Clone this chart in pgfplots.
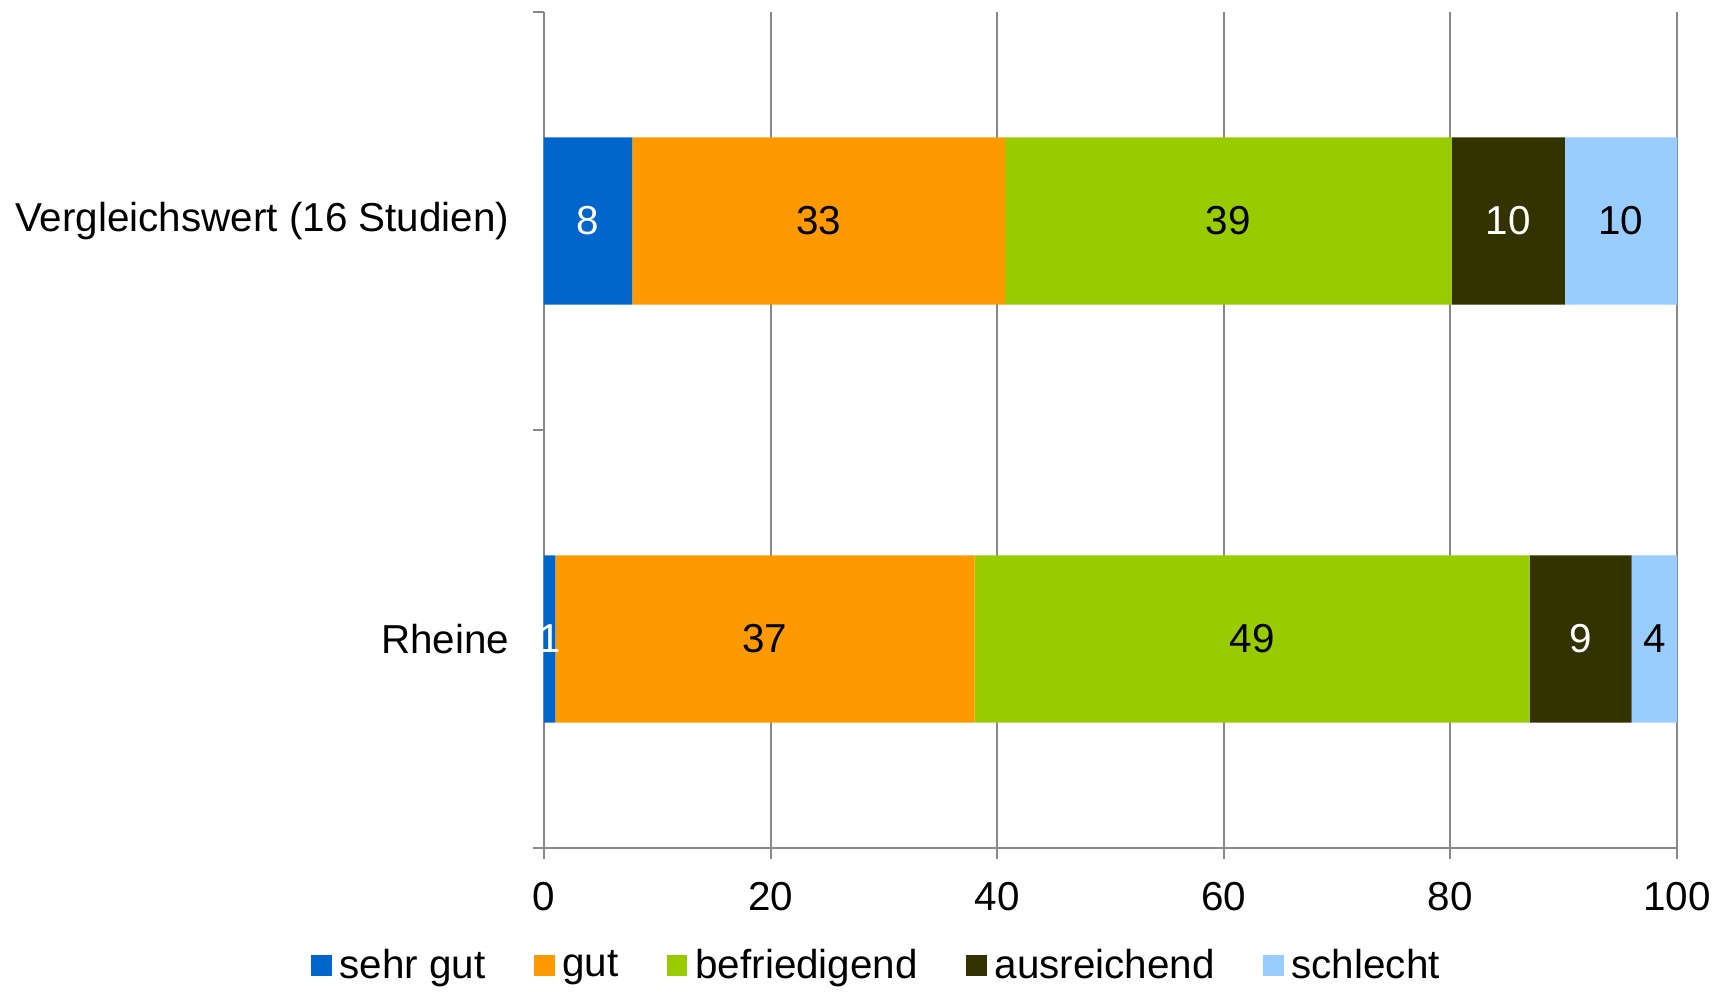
\documentclass[border=0pt]{standalone}
\usepackage{pgfplots}
\pgfplotsset{compat=1.18}
\usepackage{pgfplotstable}
\usepackage{fontspec}
\setmainfont{Liberation Sans}

\definecolor{sehrgut}{HTML}{0066CC}
\definecolor{gut}{HTML}{FF9900}
\definecolor{befr}{HTML}{99CC00}
\definecolor{ausr}{HTML}{333300}
\definecolor{schl}{HTML}{99CCFF}
\definecolor{axgray}{HTML}{888888}

% pos 0 = Rheine, pos 1 = Vergleichswert
\pgfplotstableread{
pos sg gut bef aus sch
0   1.0  37.0 49.0 9.0  4.0
1   7.8  32.9 39.4 10.0 9.9
}\noten

\begin{document}
\begin{tikzpicture}[font=\fontsize{10.1}{12}\selectfont]
\useasboundingbox (-136pt,-36pt) rectangle (294pt,212pt);
\begin{axis}[
  xbar stacked, bar width=0.4,
  scale only axis, width=283.25pt, height=209pt,
  xmin=0, xmax=100, ymin=-0.5, ymax=1.5,
  /pgf/number format/assume math mode=true,
  xtick={0,20,...,100},
  ytick={0,1}, yticklabels={Rheine, Vergleichswert (16 Studien)},
  y tick style={draw=none},
  extra y ticks={-0.5,0.5,1.5}, extra y tick labels={},
  extra y tick style={y tick style={draw=axgray, line width=0.7pt}},
  axis x line*=bottom, axis y line*=left,
  axis line style={draw=axgray, line width=0.7pt},
  x tick style={draw=axgray, line width=0.5pt},
  tick align=outside, major tick length=2.75pt,
  xmajorgrids, grid style={draw=axgray, line width=0.5pt},
  xticklabel style={yshift=-2.4pt},
  yticklabel style={xshift=-2.4pt},
  point meta=explicit,
  nodes near coords={\pgfmathprintnumber[fixed,precision=0]{\pgfplotspointmeta}},
  nodes near coords style={anchor=center},
  legend columns=5,
  legend style={draw=none, fill=none, at={(0.296,-0.142)}, anchor=center,
    /tikz/every even column/.append style={column sep=10pt},
    font=\fontsize{10.1}{12}\selectfont},
  legend image code/.code={\fill[#1] (0pt,-2.3pt) rectangle (5.2pt,2.9pt);},
]
\addplot[draw=none, fill=sehrgut, nodes near coords style={text=white}]
  table[x=sg, y=pos, meta=sg] {\noten};
\addlegendentry{sehr gut}
\addplot[draw=none, fill=gut, nodes near coords style={text=black}]
  table[x=gut, y=pos, meta=gut] {\noten};
\addlegendentry{gut}
\addplot[draw=none, fill=befr, nodes near coords style={text=black}]
  table[x=bef, y=pos, meta=bef] {\noten};
\addlegendentry{befriedigend}
\addplot[draw=none, fill=ausr, nodes near coords style={text=white}]
  table[x=aus, y=pos, meta=aus] {\noten};
\addlegendentry{ausreichend}
\addplot[draw=none, fill=schl, nodes near coords style={text=black}]
  table[x=sch, y=pos, meta=sch] {\noten};
\addlegendentry{schlecht}
\end{axis}
\end{tikzpicture}
\end{document}
